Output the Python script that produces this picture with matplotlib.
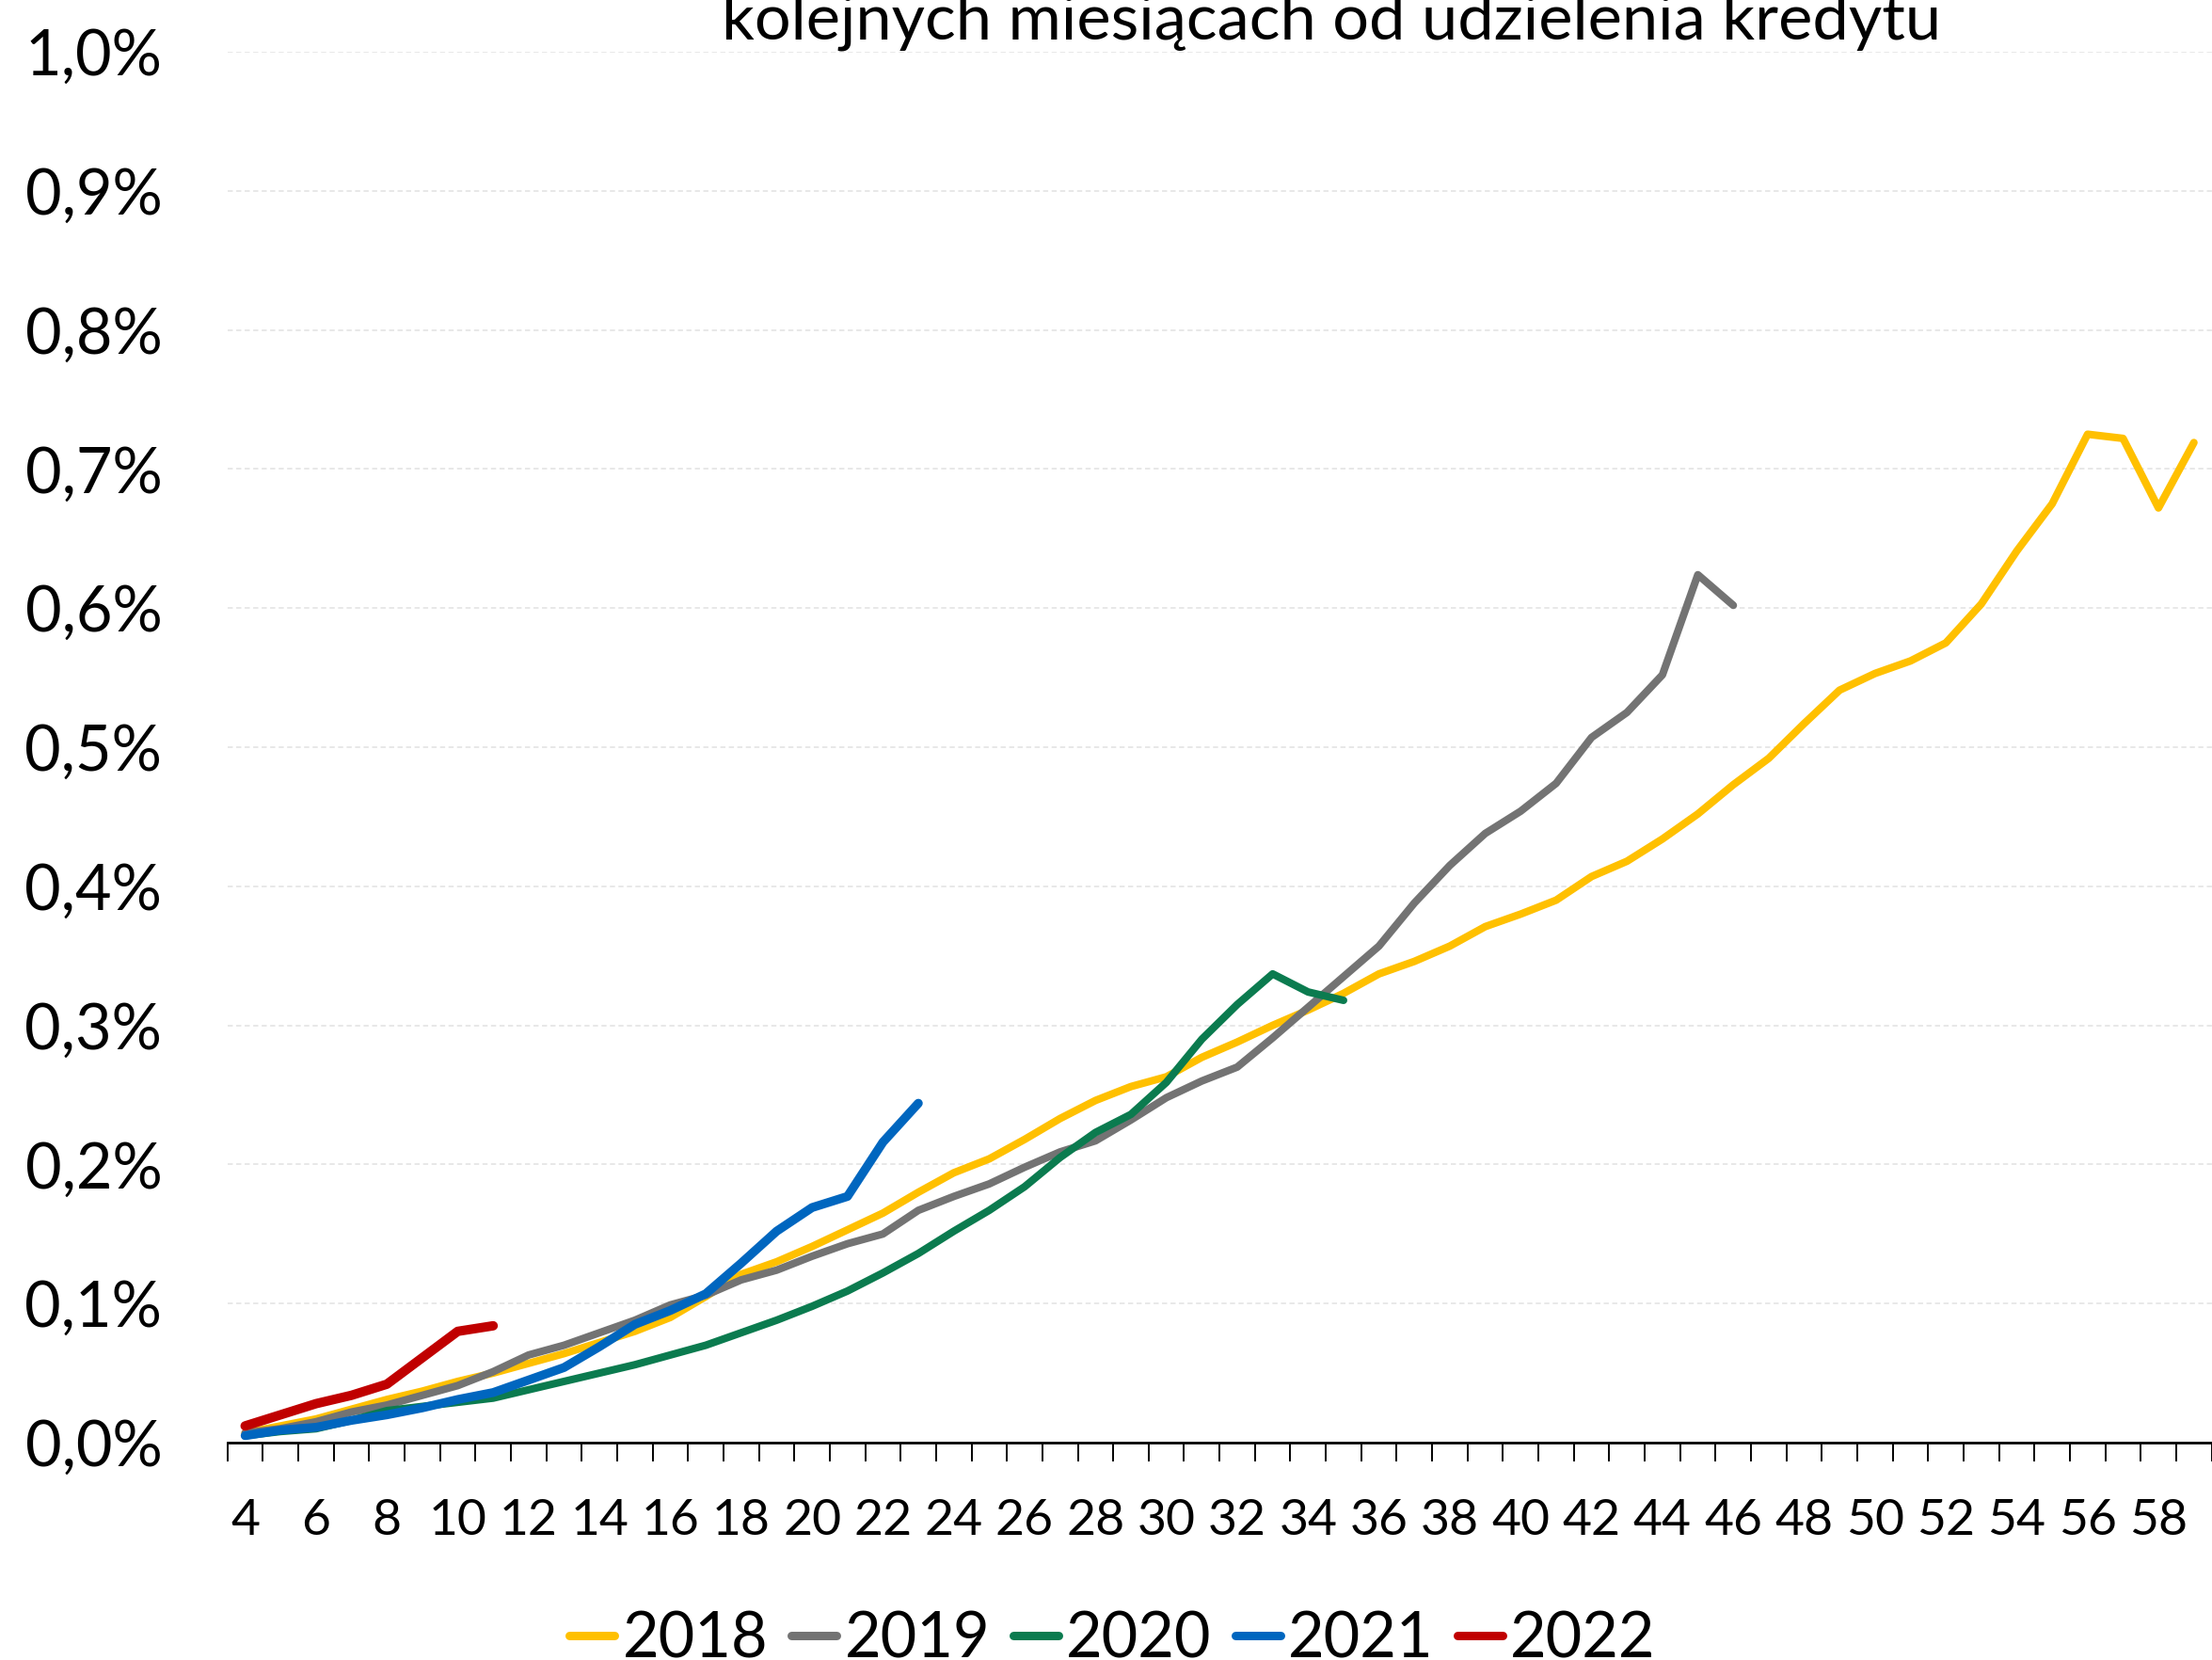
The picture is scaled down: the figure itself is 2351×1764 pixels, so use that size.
import matplotlib
matplotlib.use("Agg")
import matplotlib.pyplot as plt
from matplotlib.lines import Line2D

plt.rcParams['font.family'] = ['Lato', 'DejaVu Sans']

title = "kolejnych miesiącach od udzielenia kredytu"
months = list(range(4, 60))
x_labels = [str(m) for m in range(4, 59, 2)]
y_ticks = [0.0, 0.1, 0.2, 0.3, 0.4, 0.5, 0.6, 0.7, 0.8, 0.9, 1.0]
y_labels = ['0,0%', '0,1%', '0,2%', '0,3%', '0,4%', '0,5%', '0,6%', '0,7%', '0,8%', '0,9%', '1,0%']

s2018 = [0.007, 0.012, 0.017, 0.024, 0.031, 0.037, 0.044, 0.050, 0.057, 0.064,
         0.072, 0.080, 0.090, 0.105, 0.121, 0.130, 0.141, 0.153, 0.165, 0.180,
         0.194, 0.204, 0.218, 0.233, 0.246, 0.256, 0.263, 0.277, 0.288, 0.300,
         0.311, 0.323, 0.337, 0.346, 0.357, 0.371, 0.380, 0.390, 0.407, 0.418,
         0.434, 0.452, 0.473, 0.492, 0.517, 0.541, 0.553, 0.562, 0.575, 0.603,
         0.641, 0.675, 0.725, 0.722, 0.672, 0.719]
s2019 = [0.007, 0.010, 0.015, 0.022, 0.027, 0.034, 0.041, 0.051, 0.063, 0.070,
         0.079, 0.088, 0.099, 0.106, 0.117, 0.124, 0.134, 0.143, 0.150, 0.167,
         0.177, 0.186, 0.198, 0.209, 0.217, 0.232, 0.248, 0.260, 0.270, 0.291,
         0.313, 0.335, 0.357, 0.388, 0.415, 0.438, 0.454, 0.474, 0.507, 0.525,
         0.552, 0.624, 0.602]
s2020 = [0.005, 0.008, 0.010, 0.016, 0.023, 0.026, 0.029, 0.032, 0.038, 0.044,
         0.050, 0.056, 0.063, 0.070, 0.079, 0.088, 0.098, 0.109, 0.122, 0.136,
         0.152, 0.167, 0.184, 0.205, 0.223, 0.236, 0.259, 0.290, 0.315, 0.337,
         0.324, 0.318]
s2021 = [0.005, 0.009, 0.011, 0.016, 0.020, 0.025, 0.031, 0.036, 0.045, 0.054,
         0.069, 0.085, 0.095, 0.107, 0.129, 0.152, 0.169, 0.177, 0.216, 0.244]
s2022 = [0.012, 0.020, 0.028, 0.034, 0.042, 0.061, 0.080, 0.084]

series_names = ['2018', '2019', '2020', '2021', '2022']
series_values = [s2018, s2019, s2020, s2021, s2022]
colors = ['#FFC000', '#737373', '#0B7B4F', '#0066BF', '#C00000']
widths = [5.8, 5.8, 5.8, 6.8, 7.2]

W, H = 2351, 1764
fig = plt.figure(figsize=(W / 100, H / 100), dpi=100)
left, right = 241.7, 2350.6
top, bottom = 55, 1533
ax = fig.add_axes([left / W, 1 - bottom / H, (right - left) / W, (bottom - top) / H])

for name, vals, c, lw in zip(series_names, series_values, colors, widths):
    ax.plot(months[:len(vals)], vals, color=c, lw=lw, solid_capstyle='round',
            solid_joinstyle='round', label=name)

ax.set_xlim(3.5, 59.5)
ax.set_ylim(0, 1.0)

ax.set_yticks(y_ticks)
ax.set_yticklabels(y_labels, fontsize=48)
ax.tick_params(axis='y', length=0, pad=50)
ax.yaxis.grid(True, color='#E6E6E6', lw=1.3, linestyle=(0, (3, 2)))
ax.set_axisbelow(True)

ax.set_xticks([m - 0.5 for m in months] + [months[-1] + 0.5])
ax.set_xticklabels([])
ax.tick_params(axis='x', which='major', length=14.5, width=1.4, direction='out', color='black')
ax.set_xticks([int(l) for l in x_labels], minor=True)
ax.set_xticklabels(x_labels, minor=True, fontsize=38.5)
ax.tick_params(axis='x', which='minor', length=0, pad=43)

for s in ['left', 'right', 'top']:
    ax.spines[s].set_visible(False)
ax.spines['bottom'].set_linewidth(2.0)
ax.spines['bottom'].set_color('black')

fig.text(1415 / W, 1 - 42 / H, title, fontsize=49.3, ha='center', va='baseline')

handles = [Line2D([0], [0], color=c, lw=6.5, solid_capstyle='round') for c in colors]
fig.legend(handles, series_names, loc='center', bbox_to_anchor=(0.503, 1 - 1742 / H),
           ncol=5, frameon=False, fontsize=48, handlelength=0.72, handletextpad=0.12,
           columnspacing=0.38, borderaxespad=0, borderpad=0)

fig.savefig('out.png', dpi=100)
